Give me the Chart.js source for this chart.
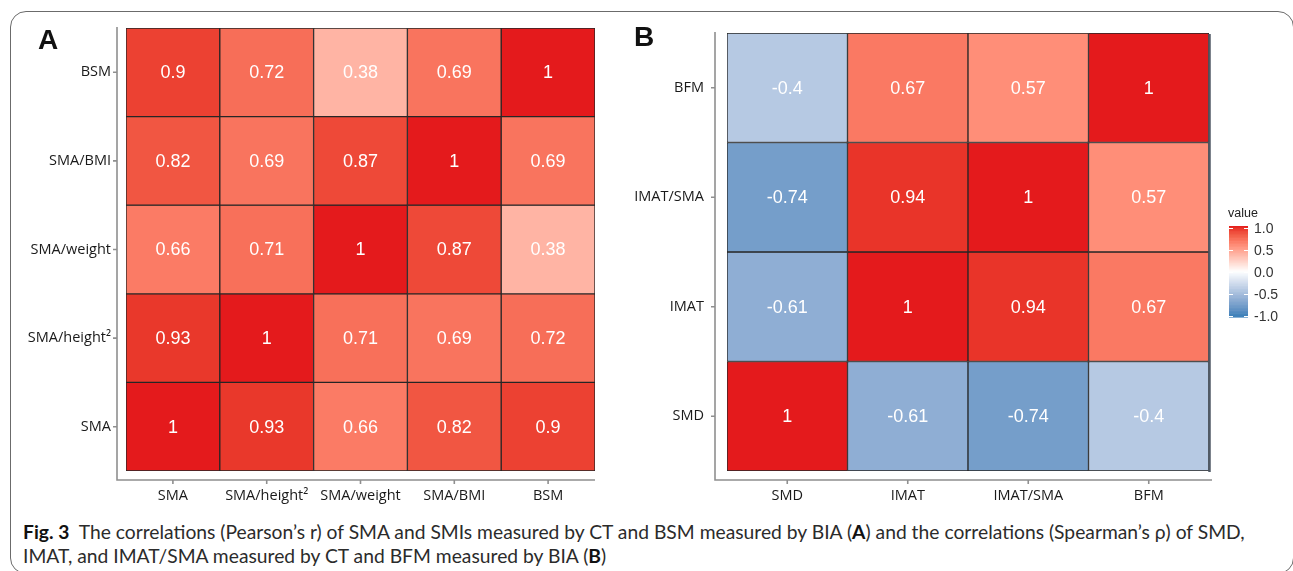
<!DOCTYPE html>
<html>
<head>
<meta charset="utf-8">
<script src="https://cdn.jsdelivr.net/npm/chart.js@4.4.1/dist/chart.umd.min.js"></script>
<style>
  html, body { margin: 0; padding: 0; background: #fff; }
  body { width: 1293px; height: 571px; position: relative; overflow: hidden; }
  #frame { position: absolute; left: 10px; top: 11px; width: 1284px; height: 563px; border: 1.5px solid #6b6b6b; border-radius: 16px; box-sizing: border-box; }
  .panel { position: absolute; top: 0; height: 520px; }
  #pa { left: 0; width: 600px; }
  #pb { left: 600px; width: 693px; }
  .letter { position: absolute; font-family: "Liberation Sans", Arial, sans-serif; font-weight: bold; font-size: 28px; color: #111; }
  .cap { position: absolute; left: 23px; font-family: Lato, "Open Sans", sans-serif; font-size: 19px; color: #2b2b2b; white-space: nowrap; transform-origin: 0 50%; }
  .cap b { color: #111; }
</style>
</head>
<body>
<div id="frame"></div>
<div class="panel" id="pa"><canvas id="ca"></canvas></div>
<div class="panel" id="pb"><canvas id="cb"></canvas></div>
<div class="letter" style="left:38px; top:24px;">A</div>
<div class="letter" style="left:634px; top:21px;">B</div>
<div class="cap" id="cap1" style="top:520px;"><b>Fig. 3</b>&nbsp; The correlations (Pearson’s r) of SMA and SMIs measured by CT and BSM measured by BIA (<b>A</b>) and the correlations (Spearman’s ρ) of SMD,</div>
<div class="cap" id="cap2" style="top:544px;">IMAT, and IMAT/SMA measured by CT and BFM measured by BIA (<b>B</b>)</div>
<script>
// ---------------- DATA ----------------
const colsA = ['SMA', 'SMA/height²', 'SMA/weight', 'SMA/BMI', 'BSM'];
const rowsA = ['BSM', 'SMA/BMI', 'SMA/weight', 'SMA/height²', 'SMA']; // top to bottom
const rowBSM_A       = [0.9, 0.72, 0.38, 0.69, 1];
const rowSMABMI_A    = [0.82, 0.69, 0.87, 1, 0.69];
const rowSMAweight_A = [0.66, 0.71, 1, 0.87, 0.38];
const rowSMAheight_A = [0.93, 1, 0.71, 0.69, 0.72];
const rowSMA_A       = [1, 0.93, 0.66, 0.82, 0.9];
const valuesA = [rowBSM_A, rowSMABMI_A, rowSMAweight_A, rowSMAheight_A, rowSMA_A];

const colsB = ['SMD', 'IMAT', 'IMAT/SMA', 'BFM'];
const rowsB = ['BFM', 'IMAT/SMA', 'IMAT', 'SMD']; // top to bottom
const rowBFM_B     = [-0.4, 0.67, 0.57, 1];
const rowIMATSMA_B = [-0.74, 0.94, 1, 0.57];
const rowIMAT_B    = [-0.61, 1, 0.94, 0.67];
const rowSMD_B     = [1, -0.61, -0.74, -0.4];
const valuesB = [rowBFM_B, rowIMATSMA_B, rowIMAT_B, rowSMD_B];

const legendBreaks = [1, 0.5, 0, -0.5, -1];
const legendLabels = ['1.0', '0.5', '0.0', '-0.5', '-1.0'];

// ---------------- COLOUR (gradient2 in Lab) ----------------
const LOW = [55, 126, 184], MID = [255, 255, 255], HIGH = [228, 26, 28];
function toLin(c) { c /= 255; return c <= 0.04045 ? c / 12.92 : Math.pow((c + 0.055) / 1.055, 2.4); }
function fromLin(c) { c = c <= 0.0031308 ? 12.92 * c : 1.055 * Math.pow(c, 1 / 2.4) - 0.055; return Math.round(Math.max(0, Math.min(1, c)) * 255); }
function rgb2lab(rgb) {
  const R = toLin(rgb[0]), G = toLin(rgb[1]), B = toLin(rgb[2]);
  const X = (0.4124564 * R + 0.3575761 * G + 0.1804375 * B) / 0.95047;
  const Y = (0.2126729 * R + 0.7151522 * G + 0.0721750 * B);
  const Z = (0.0193339 * R + 0.1191920 * G + 0.9503041 * B) / 1.08883;
  const f = t => t > 0.008856 ? Math.cbrt(t) : 7.787 * t + 16 / 116;
  return [116 * f(Y) - 16, 500 * (f(X) - f(Y)), 200 * (f(Y) - f(Z))];
}
function lab2rgb(lab) {
  const fy = (lab[0] + 16) / 116, fx = fy + lab[1] / 500, fz = fy - lab[2] / 200;
  const inv = t => t * t * t > 0.008856 ? t * t * t : (t - 16 / 116) / 7.787;
  const X = inv(fx) * 0.95047, Y = inv(fy), Z = inv(fz) * 1.08883;
  const R = 3.2404542 * X - 1.5371385 * Y - 0.4985314 * Z;
  const G = -0.9692660 * X + 1.8760108 * Y + 0.0415560 * Z;
  const B = 0.0556434 * X - 0.2040259 * Y + 1.0572252 * Z;
  return [fromLin(R), fromLin(G), fromLin(B)];
}
const LabLow = rgb2lab(LOW), LabMid = rgb2lab(MID), LabHigh = rgb2lab(HIGH);
function colorFor(v) {
  const t = Math.min(1, Math.abs(v));
  const end = v >= 0 ? LabHigh : LabLow;
  const lab = [0, 1, 2].map(k => LabMid[k] + (end[k] - LabMid[k]) * t);
  const c = lab2rgb(lab);
  return `rgb(${c[0]},${c[1]},${c[2]})`;
}

// ---------------- PLUGINS ----------------
const axesPlugin = {
  id: 'axes',
  afterDraw(chart, args, o) {
    const { ctx, chartArea: a } = chart;
    const xl = a.left - o.gapL, yb = a.bottom + o.gapB;
    ctx.save();
    ctx.strokeStyle = '#8f8f8f';
    ctx.lineWidth = 1.6;
    ctx.beginPath();
    ctx.moveTo(xl, a.top - 1);
    ctx.lineTo(xl, yb);
    ctx.lineTo(a.right + o.extR, yb);
    const ys = chart.scales.y, xs = chart.scales.x;
    ys.ticks.forEach(t => { const y = ys.getPixelForValue(t.value); ctx.moveTo(xl - 4, y); ctx.lineTo(xl, y); });
    xs.ticks.forEach((t, i) => { const x = xs.getPixelForTick(i); ctx.moveTo(x, yb); ctx.lineTo(x, yb + 4); });
    ctx.stroke();
    if (o.shadow) {
      ctx.strokeStyle = '#505a66';
      ctx.lineWidth = 2.5;
      ctx.beginPath();
      ctx.moveTo(a.right + 0.5, a.top + 1);
      ctx.lineTo(a.right + 0.5, a.bottom + 1);
      ctx.stroke();
    }
    ctx.restore();
  }
};

const cellTextPlugin = {
  id: 'cellText',
  afterDatasetsDraw(chart) {
    const ctx = chart.ctx;
    ctx.save();
    ctx.fillStyle = '#ffffff';
    ctx.font = '18px "Liberation Sans", Arial, sans-serif';
    ctx.textAlign = 'center';
    ctx.textBaseline = 'middle';
    chart.data.datasets.forEach((ds, di) => {
      const meta = chart.getDatasetMeta(di);
      meta.data.forEach((el, j) => {
        ctx.fillText(String(ds.cellValues[j]), el.x, (el.y + el.base) / 2 + 1);
      });
    });
    ctx.restore();
  }
};

const colorbarPlugin = {
  id: 'colorbar',
  afterDraw(chart, args, o) {
    if (!o || !o.show) return;
    const ctx = chart.ctx;
    const yFor = v => o.mid - v * o.half;
    ctx.save();
    const top = yFor(1) - 2, bot = yFor(-1) + 1;
    const n = 120;
    for (let i = 0; i < n; i++) {
      const v = 1 - 2 * (i + 0.5) / n;
      ctx.fillStyle = colorFor(v);
      const y0 = top + (bot - top) * i / n;
      ctx.fillRect(o.x, y0, o.w, (bot - top) / n + 0.6);
    }
    ctx.strokeStyle = '#ffffff';
    ctx.lineWidth = 1;
    ctx.beginPath();
    legendBreaks.forEach(v => {
      const y = Math.round(yFor(v)) + 0.5;
      ctx.moveTo(o.x, y); ctx.lineTo(o.x + 4, y);
      ctx.moveTo(o.x + o.w - 4, y); ctx.lineTo(o.x + o.w, y);
    });
    ctx.stroke();
    ctx.fillStyle = '#222';
    ctx.font = '12.5px "Liberation Sans", Arial, sans-serif';
    ctx.textAlign = 'left';
    ctx.textBaseline = 'middle';
    ctx.fillText('value', o.x - 1, top - 12);
    ctx.fillStyle = '#333';
    ctx.font = '14px "Liberation Sans", Arial, sans-serif';
    legendBreaks.forEach((v, i) => ctx.fillText(legendLabels[i], o.x + o.w + 6, yFor(v) + 1));
    ctx.restore();
  }
};

// ---------------- BUILD ----------------
function makeHeatmap(canvasId, cols, rows, values, g) {
  const n = rows.length;
  const datasets = rows.map((r, k) => {
    const i = n - 1 - k; // index from bottom
    return {
      label: r,
      data: cols.map(() => [i, i + 1]),
      cellValues: values[k],
      backgroundColor: values[k].map(colorFor),
      borderColor: '#262626',
      borderWidth: 1,
      borderSkipped: false,
      grouped: false,
      barPercentage: 1,
      categoryPercentage: 1
    };
  });
  const bottomUp = rows.slice().reverse();
  const tickFont = { family: '"Open Sans", sans-serif', size: 14.5 };
  return new Chart(document.getElementById(canvasId), {
    type: 'bar',
    data: { labels: cols, datasets },
    options: {
      responsive: true,
      maintainAspectRatio: false,
      animation: false,
      layout: { padding: { left: 0, right: g.padR, top: g.padT, bottom: 0 } },
      plugins: {
        legend: { display: false },
        tooltip: { enabled: false },
        axes: { gapL: g.gapL, gapB: g.gapB, extR: g.extR, shadow: g.shadow },
        colorbar: g.colorbar || { show: false }
      },
      scales: {
        x: {
          type: 'category',
          offset: true,
          grid: { display: false, drawTicks: false },
          border: { display: false },
          ticks: { padding: g.xPad, color: '#1a1a1a', font: tickFont, maxRotation: 0, autoSkip: false },
          afterFit: s => { s.height = g.xH; }
        },
        y: {
          type: 'linear',
          min: 0, max: n,
          grid: { display: false, drawTicks: false },
          border: { display: false },
          afterBuildTicks: s => { s.ticks = bottomUp.map((_, i) => ({ value: i + 0.5 })); },
          ticks: { padding: g.yPad, color: '#1a1a1a', font: tickFont, callback: v => bottomUp[Math.floor(v)] },
          afterFit: s => { s.width = g.yW; }
        }
      }
    },
    plugins: [axesPlugin, cellTextPlugin, colorbarPlugin]
  });
}

makeHeatmap('ca', colsA, rowsA, valuesA, { padR: 5, padT: 28, yW: 126, xH: 49, gapL: 9, gapB: 9, extR: 0, xPad: 16, yPad: 15, shadow: false });
makeHeatmap('cb', colsB, rowsB, valuesB, { padR: 84, padT: 33, yW: 127, xH: 49, gapL: 12, gapB: 9, extR: 3, xPad: 16, yPad: 23, shadow: true,
  colorbar: { show: true, x: 629, w: 19, mid: 272, half: 44 } });

// caption width fit to the reference line extent (uses untransformed width)
function fitCaption() {
  const c1 = document.getElementById('cap1'), c2 = document.getElementById('cap2');
  const w = c1.offsetWidth;
  const s = 1222 / w;
  c1.style.transform = `scaleX(${s})`;
  c2.style.transform = `scaleX(${s})`;
}
fitCaption();
if (document.fonts && document.fonts.ready) document.fonts.ready.then(fitCaption);
</script>
</body>
</html>
